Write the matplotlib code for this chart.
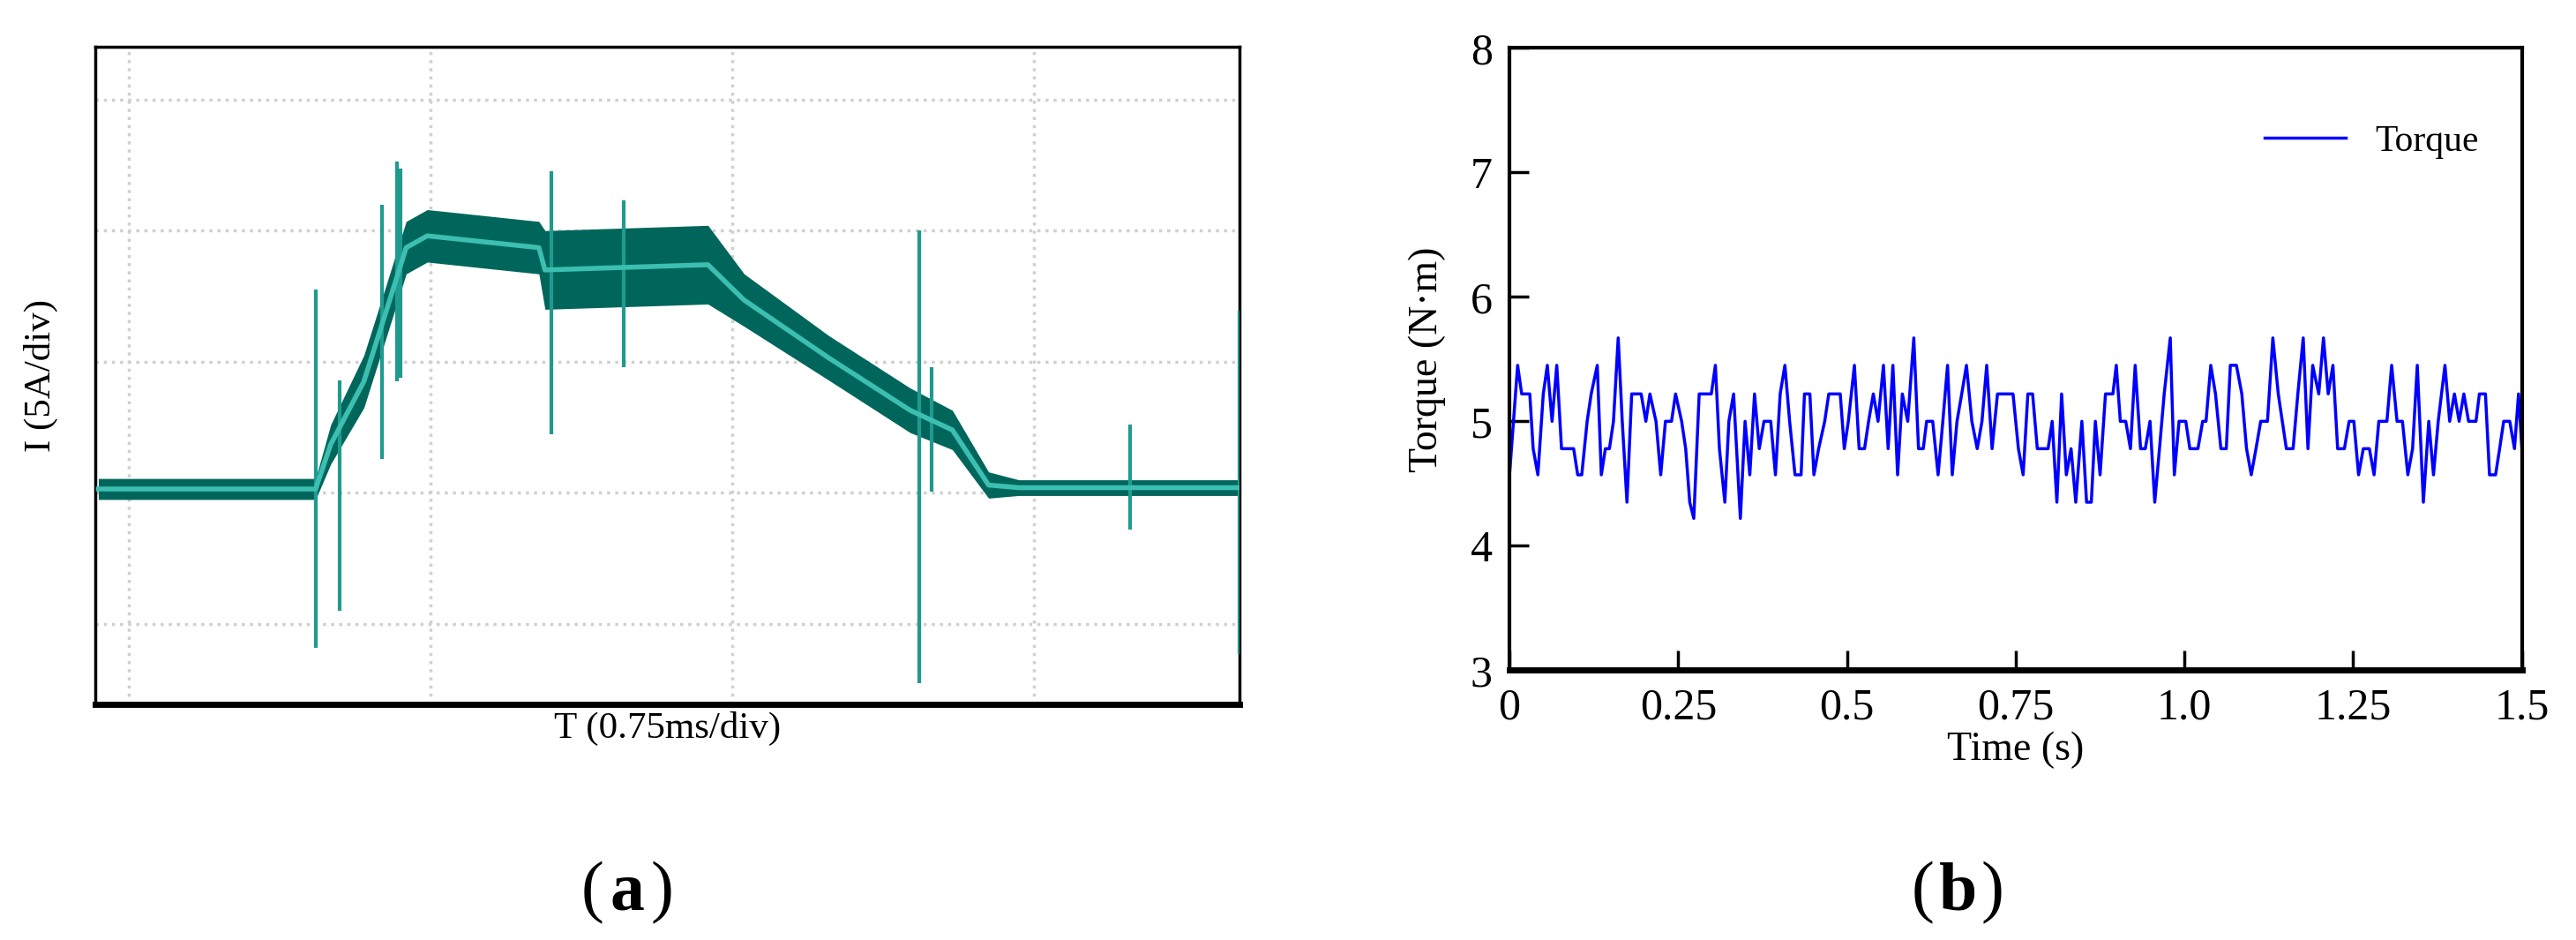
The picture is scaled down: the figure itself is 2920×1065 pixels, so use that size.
import matplotlib.pyplot as plt
from matplotlib.ticker import MultipleLocator

plt.rcParams['font.family'] = ['Liberation Serif', 'DejaVu Serif']

# (a) oscilloscope current trace, in divisions
trace_x = [-0.10, 0.62, 0.67, 0.78, 0.86, 0.92, 0.99, 1.36, 1.38, 1.92, 2.04, 2.32, 2.59, 2.73, 2.85, 2.95, 3.68]
trace_y = [0.03, 0.03, 0.37, 0.85, 1.43, 1.87, 1.96, 1.87, 1.70, 1.74, 1.47, 1.03, 0.63, 0.48, 0.06, 0.04, 0.04]
band_hw = [0.08, 0.08, 0.15, 0.2, 0.2, 0.2, 0.2, 0.2, 0.3, 0.3, 0.2, 0.17, 0.17, 0.15, 0.1, 0.06, 0.06]
spike_x = [0.62, 0.70, 0.84, 0.89, 0.90, 1.40, 1.64, 2.62, 2.66, 3.32, 3.68]
spike_top = [1.55, 0.86, 2.20, 2.53, 2.47, 2.45, 2.23, 2.00, 0.96, 0.52, 1.39]
spike_bot = [-1.18, -0.90, 0.26, 0.85, 0.88, 0.45, 0.96, -1.45, 0.01, -0.28, -1.23]

# (b) torque
t = [0, .012, .018, .030, .035, .042, .050, .056, .063, .070,
     .077, .095, .101, .107, .115, .121, .130, .136, .142, .148,
     .154, .161, .167, .174, .181, .195, .202, .208, .217, .224,
     .231, .240, .246, .255, .261, .267, .273, .281, .299, .305,
     .311, .319, .325, .332, .342, .349, .356, .363, .370, .377,
     .387, .394, .401, .408, .415, .423, .432, .437, .445, .451,
     .458, .467, .473, .490, .496, .502, .511, .518, .526, .532,
     .539, .546, .554, .561, .568, .575, .582, .590, .599, .606,
     .613, .618, .627, .635, .642, .649, .656, .663, .670, .677,
     .685, .693, .700, .707, .715, .723, .746, .754, .761, .768,
     .775, .782, .798, .804, .811, .818, .825, .832, .839, .848,
     .855, .862, .868, .875, .883, .894, .899, .905, .913, .920,
     .927, .935, .942, .949, .956, .963, .970, .979, .985, .992,
     1.002, 1.008, 1.020, 1.027, 1.032, 1.039, 1.046, 1.054, 1.062, 1.068,
     1.077, 1.085, 1.092, 1.099, 1.106, 1.113, 1.123, 1.131, 1.139, 1.145,
     1.151, 1.161, 1.168, 1.176, 1.183, 1.190, 1.199, 1.206, 1.213, 1.220,
     1.227, 1.237, 1.244, 1.251, 1.258, 1.265, 1.274, 1.281, 1.288, 1.300,
     1.307, 1.315, 1.323, 1.331, 1.338, 1.345, 1.354, 1.362, 1.369, 1.376,
     1.386, 1.393, 1.400, 1.407, 1.414, 1.421, 1.432, 1.437, 1.446, 1.452,
     1.461, 1.467, 1.473, 1.482, 1.489, 1.495, 1.500]
torque = [4.57, 5.45, 5.22, 5.22, 4.78, 4.57, 5.22, 5.45, 5.0, 5.45,
          4.78, 4.78, 4.57, 4.57, 5.0, 5.22, 5.45, 4.57, 4.78, 4.78,
          5.0, 5.67, 5.0, 4.35, 5.22, 5.22, 5.0, 5.22, 5.0, 4.57,
          5.0, 5.0, 5.22, 5.0, 4.78, 4.35, 4.22, 5.22, 5.22, 5.45,
          4.78, 4.35, 5.0, 5.22, 4.22, 5.0, 4.57, 5.22, 4.78, 5.0,
          5.0, 4.57, 5.22, 5.45, 5.0, 4.57, 4.57, 5.22, 5.22, 4.57,
          4.78, 5.0, 5.22, 5.22, 4.78, 5.0, 5.45, 4.78, 4.78, 5.0,
          5.22, 5.0, 5.45, 4.78, 5.45, 4.57, 5.22, 5.0, 5.67, 4.78,
          4.78, 5.0, 5.0, 4.57, 5.0, 5.45, 4.57, 5.0, 5.22, 5.45,
          5.0, 4.78, 5.0, 5.45, 4.78, 5.22, 5.22, 4.78, 4.57, 5.22,
          5.22, 4.78, 4.78, 5.0, 4.35, 5.22, 4.57, 4.78, 4.35, 5.0,
          4.35, 4.35, 5.0, 4.57, 5.22, 5.22, 5.45, 5.0, 5.0, 4.78,
          5.45, 4.78, 4.78, 5.0, 4.35, 4.78, 5.22, 5.67, 4.57, 5.0,
          5.0, 4.78, 4.78, 5.0, 5.0, 5.45, 5.22, 4.78, 4.78, 5.45,
          5.45, 5.22, 4.78, 4.57, 4.78, 5.0, 5.0, 5.67, 5.22, 5.0,
          4.78, 4.78, 5.22, 5.67, 4.78, 5.45, 5.22, 5.67, 5.22, 5.45,
          4.78, 4.78, 5.0, 5.0, 4.57, 4.78, 4.78, 4.57, 5.0, 5.0,
          5.45, 5.0, 5.0, 4.57, 4.78, 5.45, 4.35, 5.0, 4.57, 5.0,
          5.45, 5.0, 5.22, 5.0, 5.22, 5.0, 5.0, 5.22, 5.22, 4.57,
          4.57, 4.78, 5.0, 5.0, 4.78, 5.22, 4.78]

fig = plt.figure(figsize=(29.2, 10.65), dpi=100)

# ---- panel (a)
ax1 = fig.add_axes([0.037, 0.251, 0.444, 0.699])
lo = [y - w for y, w in zip(trace_y, band_hw)]
hi = [y + w for y, w in zip(trace_y, band_hw)]
ax1.fill_between(trace_x, lo, hi, color='#00665c', lw=0, zorder=2)
ax1.vlines(spike_x, spike_bot, spike_top, color='#1f9a8e', lw=3, zorder=3)
ax1.plot(trace_x, trace_y, color='#3cbfb0', lw=4, zorder=4)
ax1.set_xlim(-0.11, 3.68)
ax1.set_ylim(-1.61, 3.40)
ax1.set_xticks([0, 1, 2, 3])
ax1.set_yticks([-1, 0, 1, 2, 3])
ax1.grid(True, color='#d0d0d0', ls=':', lw=2.5)
ax1.tick_params(length=0, labelbottom=False, labelleft=False)
for s in ax1.spines.values():
    s.set_linewidth(2.5)
ax1.spines['bottom'].set_linewidth(5)
ax1.set_xlabel('T (0.75ms/div)', fontsize=31, labelpad=6)
ax1.set_ylabel('I (5A/div)', fontsize=31, labelpad=30)

# ---- panel (b)
ax2 = fig.add_axes([0.586, 0.287, 0.393, 0.662])
ax2.plot(t, torque, color='#0000ff', lw=2.5, label='Torque')
ax2.set_xlim(0, 1.5)
ax2.set_ylim(3, 8)
ax2.set_xticks([0, 0.25, 0.5, 0.75, 1.0, 1.25, 1.5])
ax2.set_xticklabels(['0', '0.25', '0.5', '0.75', '1.0', '1.25', '1.5'])
ax2.yaxis.set_major_locator(MultipleLocator(1))
ax2.tick_params(direction='in', length=16, width=2.5, labelsize=36, pad=14)
for s in ax2.spines.values():
    s.set_linewidth(3)
ax2.spines['bottom'].set_linewidth(5)
ax2.set_xlabel('Time (s)', fontsize=33, labelpad=2)
ax2.set_ylabel('Torque (N·m)', fontsize=33, labelpad=20)
ax2.legend(loc='upper right', frameon=False, fontsize=30, handlelength=2.2,
           bbox_to_anchor=(0.99, 0.93))

for cx, letter in [(0.2435, 'a'), (0.76, 'b')]:
    fig.text(cx - 0.009, 0.05, '(', fontsize=56, ha='right', va='center')
    fig.text(cx, 0.05, letter, fontsize=56, fontweight='bold', ha='center', va='center')
    fig.text(cx + 0.009, 0.05, ')', fontsize=56, ha='left', va='center')

fig.savefig('out.png', dpi=100)
